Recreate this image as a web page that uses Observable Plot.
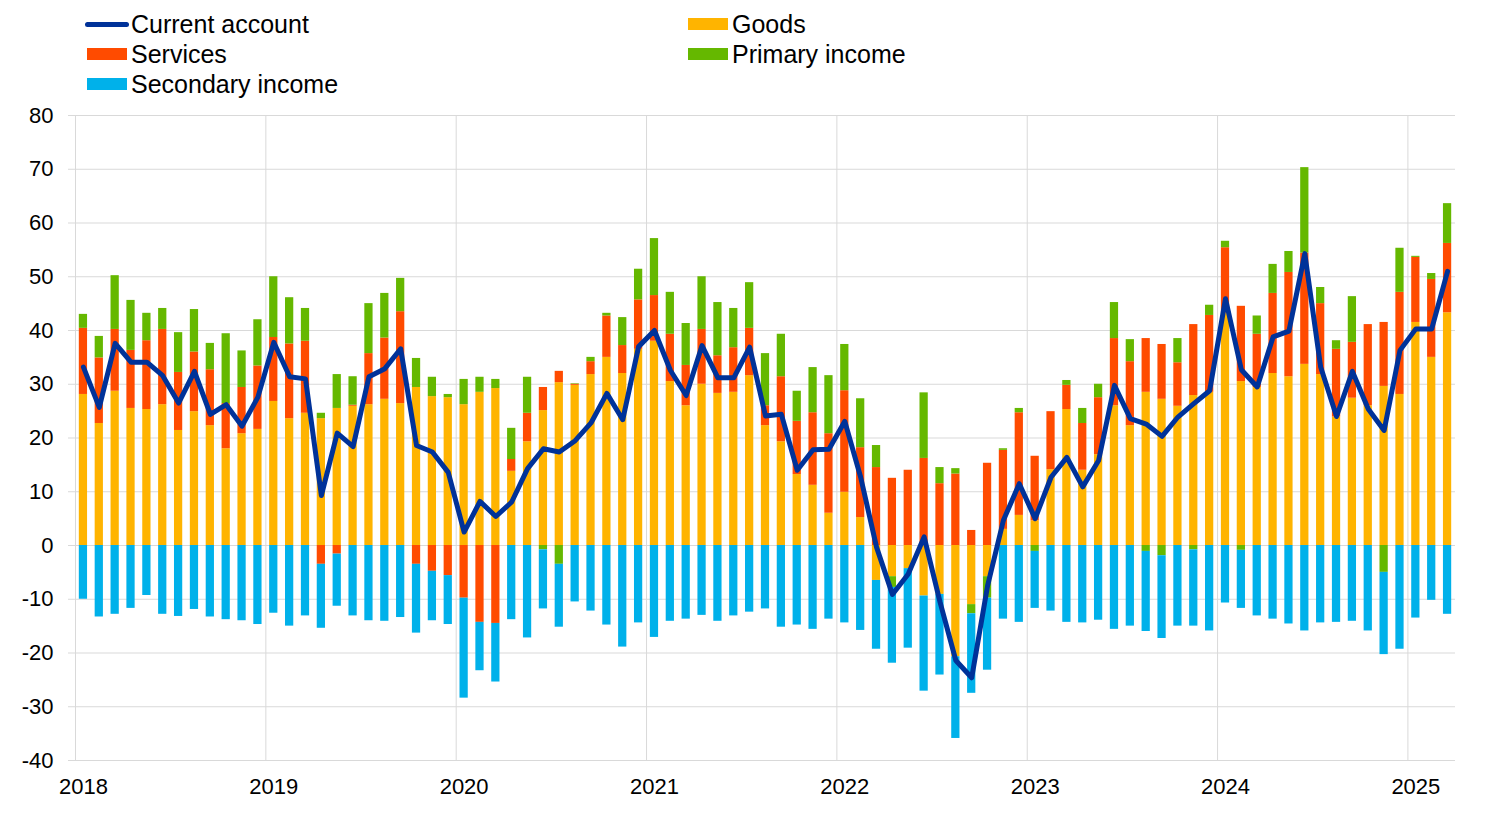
<!DOCTYPE html>
<html>
<head>
<meta charset="utf-8">
<script src="https://cdn.jsdelivr.net/npm/d3@7"></script>
<script src="https://cdn.jsdelivr.net/npm/@observablehq/plot@0.6"></script>
<style>
  html, body { margin: 0; padding: 0; background: #fff; }
  body { width: 1500px; height: 827px; overflow: hidden; font-family: "Liberation Sans", Arial, sans-serif; }
  #wrap { position: relative; width: 1500px; height: 827px; }
  #legend { position: absolute; left: 0; top: 0; width: 1500px; height: 100px; }
  .item { position: absolute; display: flex; align-items: center; font-size: 25px; color: #000; line-height: 1; white-space: nowrap; }
  .sw { width: 40px; height: 12px; margin-right: 4px; }
  .ln { width: 40px; height: 5px; border-radius: 3px; margin-right: 2px; }
  #chart { position: absolute; left: 0; top: 100px; }
</style>
</head>
<body>
<div id="wrap">
  <div id="legend"></div>
  <div id="chart"></div>
</div>
<script>
// Monthly data, Jan 2018 – Mar 2025 (EUR billions)
const startYear = 2018;
const goods = [
  28.1, 22.7, 28.7, 25.5, 25.3, 26.2, 21.4, 24.9, 22.3, 18.0, 20.8, 21.6,
  26.8, 23.6, 24.6, 23.6, 25.5, 25.9, 26.2, 27.2, 26.4, 29.4, 27.7, 27.5,
  26.2, 28.5, 29.2, 13.8, 19.3, 25.1, 30.3, 29.8, 31.8, 35.0, 32.0, 36.5,
  38.0, 30.5, 26.0, 30.0, 28.3, 28.5, 31.6, 22.3, 19.3, 13.2, 11.2, 6.0,
  9.9, 5.2, -6.5, -5.8, -4.3, -9.4, -9.1, -20.7, -11.0, -5.8, 3.0, 5.6,
  4.6, 14.1, 25.3, 14.0, 16.9, 26.0, 22.3, 28.5, 27.2, 25.9, 27.9, 28.5,
  43.2, 30.5, 29.4, 32.0, 31.4, 33.7, 31.8, 23.9, 27.4, 26.0, 29.6, 28.1,
  41.5, 35.0, 43.3
];
const services = [
  12.3, 12.2, 11.5, 10.8, 12.8, 14.0, 10.8, 11.1, 10.4, 8.4, 8.6, 11.8,
  11.9, 13.9, 13.4, -3.5, -1.6, 0.2, 9.5, 11.4, 17.1, -3.5, -4.8, -5.6,
  -9.8, -14.3, -14.5, 2.2, 5.3, 4.3, 2.1, 0.2, 2.4, 7.7, 5.2, 9.2,
  8.5, 8.8, 7.5, 10.2, 7.0, 8.3, 8.8, 3.7, 12.1, 9.9, 13.5, 14.8,
  18.9, 13.0, 14.5, 12.5, 14.0, 16.2, 11.5, 13.3, 2.8, 15.3, 14.7, 19.1,
  12.0, 10.8, 4.5, 8.7, 10.6, 12.5, 11.9, 10.0, 10.2, 8.1, 13.2, 14.3,
  12.2, 14.0, 9.9, 14.9, 19.4, 20.7, 13.2, 12.6, 10.4, 15.1, 11.9, 19.0,
  12.1, 14.5, 12.9
];
const primaryIncome = [
  2.6, 4.0, 10.0, 9.3, 5.1, 3.9, 7.4, 7.9, 4.9, 13.0, 6.8, 8.6,
  11.3, 8.6, 6.1, 1.0, 6.3, 5.3, 9.3, 8.3, 6.2, 5.4, 3.6, 0.6,
  4.7, 2.8, 1.7, 5.8, 6.7, -0.8, -3.5, 0.1, 0.8, 0.5, 5.2, 5.7,
  10.6, 7.8, 7.8, 9.8, 9.9, 7.3, 8.5, 9.7, 7.9, 5.6, 8.4, 10.8,
  8.6, 9.1, 4.1, -2.0, 0.0, 12.2, 3.0, 1.0, -1.7, -4.0, 0.3, 0.8,
  -1.1, 0.0, 0.9, 2.8, 2.5, 6.7, 4.1, -1.1, -1.9, 4.5, -0.8, 1.9,
  1.2, -0.9, 3.4, 5.4, 3.9, 15.9, 3.0, 1.6, 8.5, 0.0, -5.0, 8.2,
  0.2, 1.1, 7.4
];
const secondaryIncome = [
  -10.0, -13.3, -12.8, -11.7, -9.3, -12.8, -13.2, -11.9, -13.3, -13.8, -14.0, -14.7,
  -12.6, -15.0, -13.1, -11.9, -9.7, -13.1, -14.0, -14.1, -13.4, -12.8, -9.2, -9.1,
  -18.6, -9.0, -10.9, -13.8, -17.2, -11.0, -11.7, -10.5, -12.2, -14.8, -18.9, -14.4,
  -17.1, -14.1, -13.7, -13.0, -14.1, -13.1, -12.4, -11.8, -15.2, -14.8, -15.6, -13.7,
  -14.4, -15.8, -12.8, -14.1, -14.8, -17.7, -15.0, -15.2, -14.8, -13.4, -13.7, -14.3,
  -10.6, -12.2, -14.3, -14.4, -13.9, -15.6, -15.0, -14.9, -15.4, -15.0, -14.2, -15.9,
  -10.7, -10.8, -13.1, -13.7, -14.6, -15.9, -14.4, -14.3, -14.1, -15.9, -15.3, -19.3,
  -13.5, -10.2, -12.8
];
const currentAccount = [
  33.2, 25.7, 37.6, 34.1, 34.1, 31.6, 26.5, 32.4, 24.4, 26.2, 22.2, 27.6,
  37.8, 31.4, 31.0, 9.3, 20.9, 18.4, 31.4, 32.9, 36.6, 18.6, 17.4, 13.6,
  2.5, 8.2, 5.4, 8.1, 14.3, 18.0, 17.4, 19.5, 22.8, 28.3, 23.4, 37.0,
  40.0, 32.6, 27.9, 37.2, 31.2, 31.2, 36.9, 24.1, 24.4, 14.0, 17.8, 17.9,
  23.1, 12.7, -0.3, -9.1, -5.3, 1.6, -10.5, -21.4, -24.6, -7.5, 4.7, 11.5,
  5.0, 12.7, 16.4, 10.9, 15.8, 29.8, 23.6, 22.6, 20.3, 23.9, 26.4, 28.8,
  45.9, 32.7, 29.5, 38.8, 39.9, 54.3, 33.2, 24.0, 32.4, 25.4, 21.4, 36.3,
  40.3, 40.3, 51.0
];
const seriesNames = ["Goods", "Services", "Primary income", "Secondary income"];
const seriesColors = ["#FFB400", "#FF4B00", "#65B800", "#00B1EA"];
const lineName = "Current account";
const lineColor = "#003299";
const yTicks = [-40, -30, -20, -10, 0, 10, 20, 30, 40, 50, 60, 70, 80];

// Build month keys
const months = goods.map((_, i) => {
  const y = startYear + Math.floor(i / 12);
  const m = (i % 12) + 1;
  return `${y}-${String(m).padStart(2, "0")}`;
});
const januaries = months.filter(k => k.endsWith("-01"));

const seriesValues = [goods, services, primaryIncome, secondaryIncome];
const barData = [];
months.forEach((mo, i) => {
  seriesNames.forEach((s, j) => barData.push({month: mo, series: s, value: seriesValues[j][i]}));
});
const lineData = months.map((mo, i) => ({month: mo, value: currentAccount[i]}));

// Layout
const W = 1500, H = 727, mL = 75, mR = 45, mT = 15, mB = 67;
const step = (W - mL - mR) / months.length;

const chart = Plot.plot({
  width: W, height: H,
  marginLeft: mL, marginRight: mR, marginTop: mT, marginBottom: mB,
  style: {fontFamily: "'Liberation Sans', Arial, sans-serif", fontSize: "22px", color: "#000", background: "#fff"},
  x: {type: "band", domain: months, paddingInner: 0.48, paddingOuter: 0.24, axis: null, label: null},
  y: {domain: [-40, 80], axis: null, label: null},
  color: {domain: seriesNames, range: seriesColors},
  marks: [
    Plot.ruleY(yTicks, {stroke: "#d9d9d9", strokeWidth: 1}),
    Plot.ruleX(januaries, {stroke: "#d9d9d9", strokeWidth: 1, dx: -step / 2}),
    Plot.axisY({ticks: yTicks, tickSize: 7, tickPadding: 15, stroke: "#d9d9d9", fill: "#000", tickFormat: d => String(d), fontSize: 22, label: null}),
    Plot.axisX({ticks: januaries, tickSize: 0, tickPadding: 18, tickFormat: k => k.slice(0, 4), fill: "#000", fontSize: 22, label: null}),
    Plot.barY(barData, Plot.stackY({x: "month", y: "value", fill: "series", order: seriesNames})),
    Plot.lineY(lineData, {x: "month", y: "value", stroke: lineColor, strokeWidth: 5, strokeLinejoin: "round", strokeLinecap: "round"})
  ]
});
document.getElementById("chart").appendChild(chart);

// Legend
const legend = document.getElementById("legend");
const items = [
  {name: lineName, color: lineColor, line: true, x: 85, y: 24},
  {name: seriesNames[0], color: seriesColors[0], x: 688, y: 24},
  {name: seriesNames[1], color: seriesColors[1], x: 87, y: 54},
  {name: seriesNames[2], color: seriesColors[2], x: 688, y: 54},
  {name: seriesNames[3], color: seriesColors[3], x: 87, y: 84}
];
items.forEach(it => {
  const d = document.createElement("div");
  d.className = "item";
  d.style.left = it.x + "px";
  d.style.top = (it.y - 13) + "px";
  d.style.height = "26px";
  const s = document.createElement("span");
  s.className = it.line ? "ln" : "sw";
  s.style.background = it.color;
  if (it.line) s.style.width = "44px";
  const t = document.createElement("span");
  t.textContent = it.name;
  d.appendChild(s); d.appendChild(t);
  legend.appendChild(d);
});
</script>
</body>
</html>
